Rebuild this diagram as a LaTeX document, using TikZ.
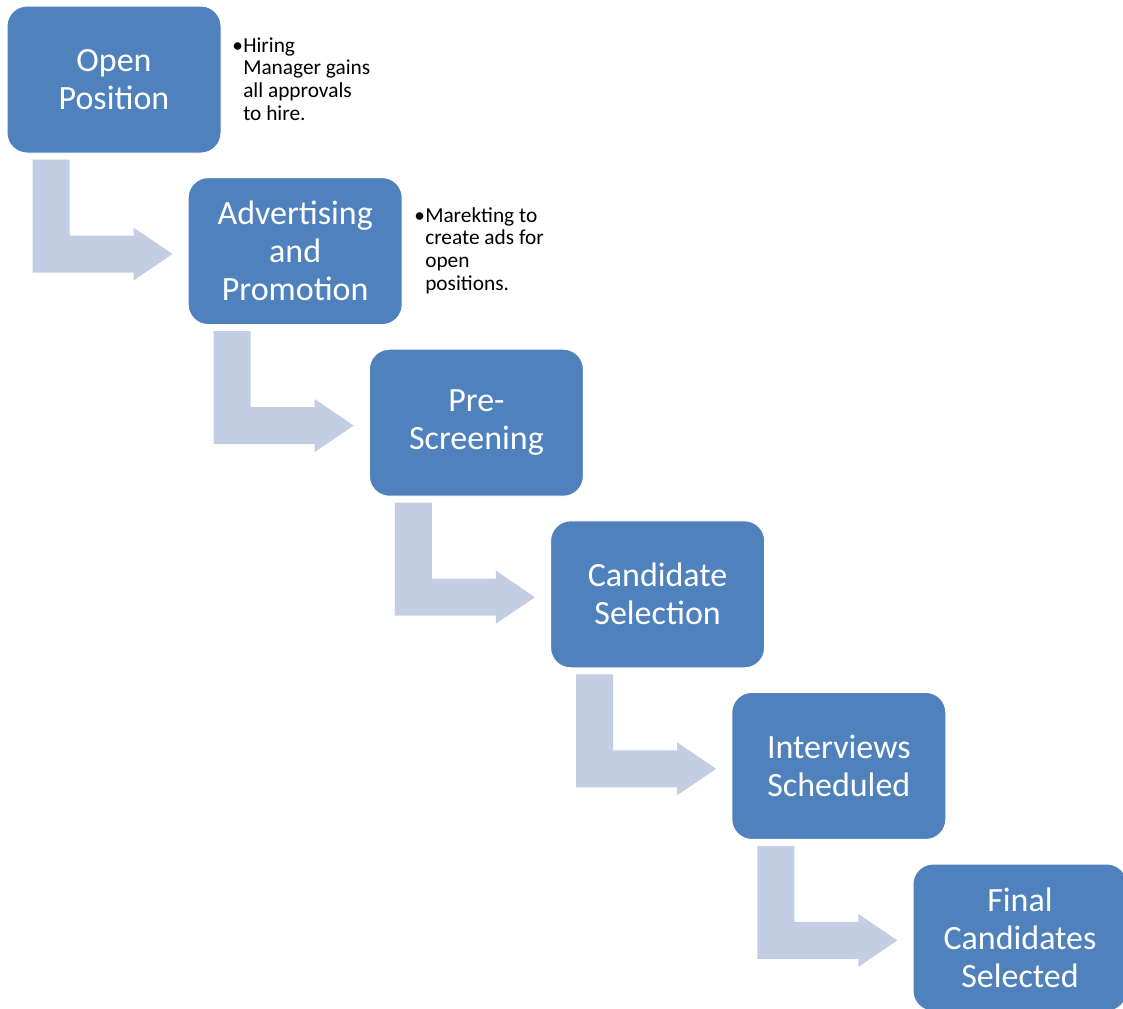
\documentclass[tikz,border=0pt]{standalone}
\usepackage{fontspec}
\setmainfont{Carlito}
\usetikzlibrary{calc}

\definecolor{boxblue}{RGB}{79,129,189}
\definecolor{bendgray}{RGB}{195,205,227}

\begin{document}
\begin{tikzpicture}[x=0.75pt, y=-0.75pt,
        stage/.style={fill=boxblue, draw=white, line width=0.75pt, rounded corners=15pt,
            minimum width=160.5pt, minimum height=110.25pt, inner sep=0pt,
            align=center, text=white, font=\fontsize{25.5}{28.5}\selectfont},
        bendarrow/.style={fill=bendgray},
        note/.style={inner sep=0pt, anchor=base west, font=\fontsize{16}{17}\selectfont}]

        % Page frame
        \useasboundingbox (0,0) rectangle (1123,1008);
        \clip (0,0) rectangle (1123,1008);

        % Draw the stages
        \node[stage] (open) at (114, 79.5) {Open\\Position};
        \node[stage] (advert) at (295.2, 251.1) {Advertising\\and\\Promotion};
        \node[stage] (prescreen) at (476.4, 422.7) {Pre-\\Screening};
        \node[stage] (select) at (657.6, 594.3) {Candidate\\Selection};
        \node[stage] (interview) at (838.8, 765.9) {Interviews\\Scheduled};
        \node[stage] (final) at (1020, 937.5) {Final\\Candidates\\Selected};

        % Draw the notes beside the first two stages
        \node[note] (hiring) at (232, 52) {\begin{tabular}[t]{@{}l@{}l@{}}
            \makebox[8.25pt][l]{•}&Hiring\\ &Manager gains\\ &all approvals\\ &to hire.\end{tabular}};
        \node[note] (ads) at (414, 222) {\begin{tabular}[t]{@{}l@{}l@{}}
            \makebox[8.25pt][l]{•}&Marekting to\\ &create ads for\\ &open\\ &positions.\end{tabular}};

        % Draw the bent arrows between stages
        \fill[bendarrow] ($(open.south west)+(26,6)$) -- ++(37,0) -- ++(0,76) -- ++(64,0)
            -- ++(0,-8) -- ++(39,26.5) -- ++(-39,26.5) -- ++(0,-8) -- ++(-101,0) -- cycle;
        \fill[bendarrow] ($(advert.south west)+(26,6)$) -- ++(37,0) -- ++(0,76) -- ++(64,0)
            -- ++(0,-8) -- ++(39,26.5) -- ++(-39,26.5) -- ++(0,-8) -- ++(-101,0) -- cycle;
        \fill[bendarrow] ($(prescreen.south west)+(26,6)$) -- ++(37,0) -- ++(0,76) -- ++(64,0)
            -- ++(0,-8) -- ++(39,26.5) -- ++(-39,26.5) -- ++(0,-8) -- ++(-101,0) -- cycle;
        \fill[bendarrow] ($(select.south west)+(26,6)$) -- ++(37,0) -- ++(0,76) -- ++(64,0)
            -- ++(0,-8) -- ++(39,26.5) -- ++(-39,26.5) -- ++(0,-8) -- ++(-101,0) -- cycle;
        \fill[bendarrow] ($(interview.south west)+(26,6)$) -- ++(37,0) -- ++(0,76) -- ++(64,0)
            -- ++(0,-8) -- ++(39,26.5) -- ++(-39,26.5) -- ++(0,-8) -- ++(-101,0) -- cycle;

\end{tikzpicture}
\end{document}
